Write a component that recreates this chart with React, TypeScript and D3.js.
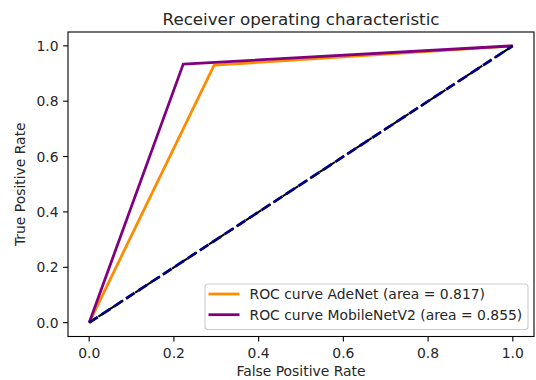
import React from "react";
import * as d3 from "d3";

const adenetFpr = [0, 0.295, 1];
const adenetTpr = [0, 0.93, 1];
const mobileFpr = [0, 0.222, 1];
const mobileTpr = [0, 0.934, 1];
const diagFpr = [0, 1];
const diagTpr = [0, 1];
const ticks = [0, 0.2, 0.4, 0.6, 0.8, 1.0];
const legendLabels = [
  "ROC curve AdeNet (area = 0.817)",
  "ROC curve MobileNetV2 (area = 0.855)",
];

const W = 536, H = 380;
const L = 68, R = 534, T = 32, B = 336.5;
const FONT = "DejaVu Sans, sans-serif";

export default function App() {
  const x = d3.scaleLinear().domain([-0.05, 1.05]).range([L, R]);
  const y = d3.scaleLinear().domain([-0.05, 1.05]).range([B, T]);
  const line = (xs: number[], ys: number[]) =>
    d3.line<number>().x((d, i) => x(xs[i])).y((d, i) => y(ys[i]))(xs) || "";
  const lw = 2.78;
  return (
    <svg width={W} height={H} style={{ position: "absolute", left: 0, top: 0, background: "#fff" }}>
      <rect x={0} y={0} width={W} height={H} fill="#fff" />
      <defs>
        <clipPath id="ax">
          <rect x={L} y={T} width={R - L} height={B - T} />
        </clipPath>
      </defs>
      <g clipPath="url(#ax)">
        <path d={line(adenetFpr, adenetTpr)} fill="none" stroke="#ff8c00" strokeWidth={lw} strokeLinejoin="round" strokeLinecap="butt" />
        <path d={line(mobileFpr, mobileTpr)} fill="none" stroke="#800080" strokeWidth={lw} strokeLinejoin="round" />
        <path d={line(diagFpr, diagTpr)} fill="none" stroke="#000000" strokeWidth={2.08} strokeDasharray="7.7 3.3" />
        <path d={line(diagFpr, diagTpr)} fill="none" stroke="#000080" strokeWidth={lw} strokeDasharray="10.3 4.4" />
      </g>
      <rect x={L} y={T} width={R - L} height={B - T} fill="none" stroke="#000" strokeWidth={1.1} />
      {ticks.map((t) => (
        <g key={"x" + t}>
          <line x1={x(t)} x2={x(t)} y1={B} y2={B + 4.9} stroke="#000" strokeWidth={1.1} />
          <text x={x(t)} y={358} fontFamily={FONT} fontSize={13.9} textAnchor="middle" fill="#262626">{t.toFixed(1)}</text>
          <line x1={L - 4.9} x2={L} y1={y(t)} y2={y(t)} stroke="#000" strokeWidth={1.1} />
          <text x={L - 9.5} y={y(t)} dy="0.36em" fontFamily={FONT} fontSize={13.9} textAnchor="end" fill="#262626">{t.toFixed(1)}</text>
        </g>
      ))}
      <text x={(L + R) / 2} y={376} fontFamily={FONT} fontSize={13.9} textAnchor="middle" fill="#262626">False Positive Rate</text>
      <text transform={`translate(25,${(T + B) / 2}) rotate(-90)`} fontFamily={FONT} fontSize={13.9} textAnchor="middle" fill="#262626">True Positive Rate</text>
      <text x={(L + R) / 2} y={25} fontFamily={FONT} fontSize={16.7} textAnchor="middle" fill="#262626">Receiver operating characteristic</text>
      <g>
        <rect x={205} y={284} width={323} height={45.5} rx={3} fill="#fff" fillOpacity={0.8} stroke="#cccccc" strokeWidth={1.1} />
        {legendLabels.map((lab, i) => (
          <g key={lab}>
            <line x1={208.5} x2={239.5} y1={294 + i * 20.7} y2={294 + i * 20.7} stroke={i === 0 ? "#ff8c00" : "#800080"} strokeWidth={lw} />
            <text x={249.5} y={294 + i * 20.7} dy="0.36em" fontFamily={FONT} fontSize={13.9} fill="#262626">{lab}</text>
          </g>
        ))}
      </g>
    </svg>
  );
}
